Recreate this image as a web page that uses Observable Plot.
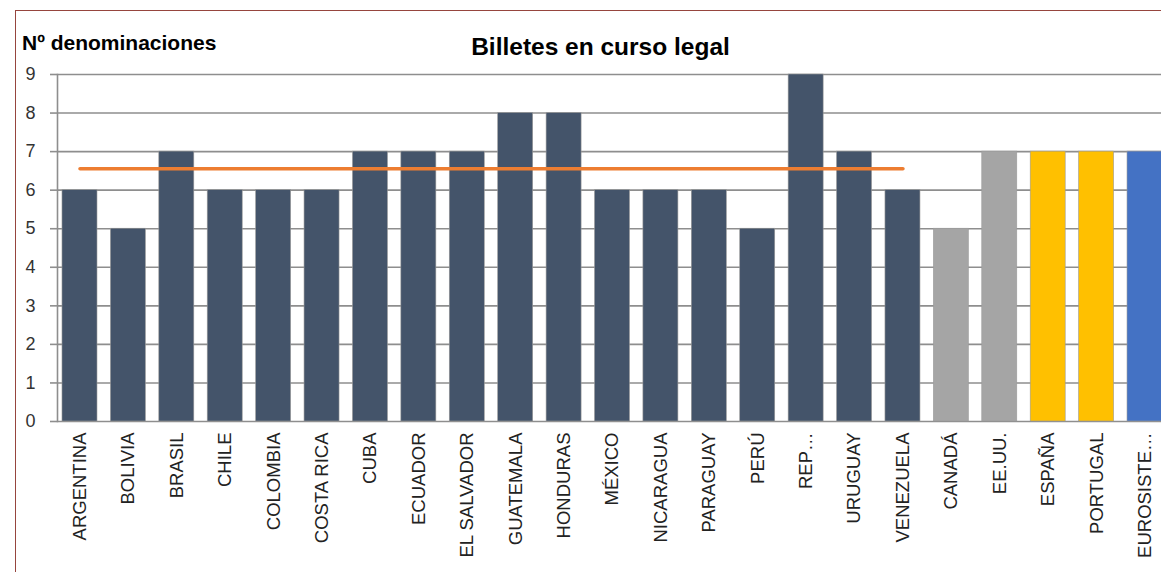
<!DOCTYPE html>
<html>
<head>
<meta charset="utf-8">
<script src="https://cdn.jsdelivr.net/npm/d3@7"></script>
<script src="https://cdn.jsdelivr.net/npm/@observablehq/plot@0.6"></script>
<style>
  html, body { margin: 0; padding: 0; background: #fff; }
  #wrap { position: relative; width: 1161px; height: 572px; overflow: hidden; font-family: "Liberation Sans", Arial, sans-serif; }
  #border { position: absolute; left: 15px; top: 10px; width: 1200px; height: 600px; border-left: 1.5px solid #96453e; border-top: 1.5px solid #96453e; box-sizing: border-box; pointer-events: none; }
  .title { position: absolute; left: 0; width: 1201px; text-align: center; top: 35px; font-size: 24.5px; font-weight: bold; line-height: 1; color: #000; }
  .ylab { position: absolute; left: 22px; top: 32px; font-size: 21px; font-weight: bold; line-height: 1; color: #000; }
  #chart { position: absolute; left: 0; top: 0; }
</style>
</head>
<body>
<div id="wrap">
  <div id="chart"></div>
  <div id="border"></div>
  <div class="ylab">Nº denominaciones</div>
  <div class="title">Billetes en curso legal</div>
</div>
<script>
const categories = ["ARGENTINA","BOLIVIA","BRASIL","CHILE","COLOMBIA","COSTA RICA","CUBA","ECUADOR","EL SALVADOR","GUATEMALA","HONDURAS","MÉXICO","NICARAGUA","PARAGUAY","PERÚ","REP…","URUGUAY","VENEZUELA","CANADÁ","EE.UU.","ESPAÑA","PORTUGAL","EUROSISTE…"];
const values = [6,5,7,6,6,6,7,7,7,8,8,6,6,6,5,9,7,6,5,7,7,7,7];
const groups = ["latam","latam","latam","latam","latam","latam","latam","latam","latam","latam","latam","latam","latam","latam","latam","latam","latam","latam","na","na","ib","ib","euro"];
const groupColors = {latam: "#44546A", na: "#A5A5A5", ib: "#FFC000", euro: "#4472C4"};
const yTicks = [0,1,2,3,4,5,6,7,8,9];

const data = categories.map((c, i) => ({cat: c, value: values[i], group: groups[i]}));
const latam = data.filter(d => d.group === "latam");
const avg = d3.mean(latam, d => d.value);
const avgLine = latam.map(d => ({cat: d.cat, value: avg}));

const chart = Plot.plot({
  width: 1161,
  height: 572,
  marginLeft: 57,
  marginRight: 0,
  marginTop: 74,
  marginBottom: 151,
  style: {fontFamily: "'Liberation Sans', Arial, sans-serif", background: "transparent"},
  x: {domain: categories, range: [57, 1167], paddingInner: 0.277, paddingOuter: 0.103, round: false, label: null},
  y: {domain: [0, 9], ticks: yTicks, label: null},
  marks: [
    Plot.ruleY(yTicks, {stroke: "#8e8e8e", strokeWidth: 1.6}),
    Plot.frame({anchor: "left", stroke: "#8e8e8e", strokeWidth: 1.6}),
    Plot.barY(data, {x: "cat", y: "value", fill: d => groupColors[d.group], stroke: "#9a9a9a", strokeWidth: 0.6}),
    Plot.lineY(avgLine, {x: "cat", y: "value", stroke: "#ED7D31", strokeWidth: 3.5, strokeLinecap: "round"}),
    Plot.axisY({ticks: yTicks, tickSize: 7, tickPadding: 15, stroke: "#8e8e8e", fontSize: 18, fill: "#333", tickFormat: d => String(d)}),
    Plot.axisX({tickSize: 0, tickPadding: 11, tickRotate: -90, fontSize: 18.5, fill: "#222", label: null})
  ]
});
chart.querySelectorAll("[aria-label='y-axis tick'] path, [aria-label='y-axis tick']").forEach(e => { e.setAttribute("stroke", "#8e8e8e"); e.setAttribute("stroke-width", "1.6"); });
document.getElementById("chart").appendChild(chart);
</script>
</body>
</html>
